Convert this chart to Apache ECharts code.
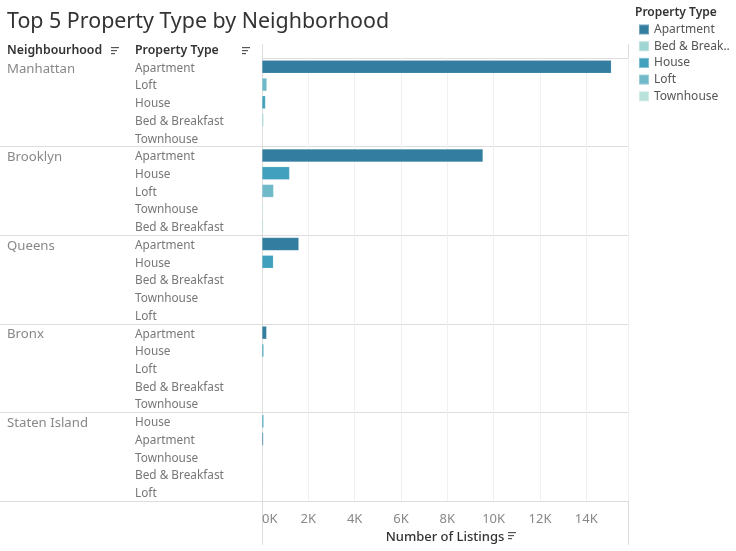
<!DOCTYPE html>
<html><head><meta charset="utf-8">
<script src="https://cdn.jsdelivr.net/npm/echarts@6/dist/echarts.min.js"></script>
<style>html,body{margin:0;padding:0;background:#fff}#c{width:736px;height:551px}</style>
</head><body><div id="c"></div>
<script>
// ---- data ----
const neighborhoods = ['Manhattan', 'Brooklyn', 'Queens', 'Bronx', 'Staten Island'];
const manhattanTypes = ['Apartment', 'Loft', 'House', 'Bed & Breakfast', 'Townhouse'];
const manhattanListings = [15080, 210, 150, 70, 12];
const brooklynTypes = ['Apartment', 'House', 'Loft', 'Townhouse', 'Bed & Breakfast'];
const brooklynListings = [9540, 1190, 500, 55, 50];
const queensTypes = ['Apartment', 'House', 'Bed & Breakfast', 'Townhouse', 'Loft'];
const queensListings = [1590, 490, 20, 15, 10];
const bronxTypes = ['Apartment', 'House', 'Loft', 'Bed & Breakfast', 'Townhouse'];
const bronxListings = [200, 75, 10, 8, 5];
const statenTypes = ['House', 'Apartment', 'Townhouse', 'Bed & Breakfast', 'Loft'];
const statenListings = [75, 60, 8, 5, 3];
const propertyTypes = ['Apartment', 'Bed & Breakfast', 'House', 'Loft', 'Townhouse'];
const xTickValues = [0, 2000, 4000, 6000, 8000, 10000, 12000, 14000];

// ---- styles ----
const typeColors = ['#337da1', '#a0d6d2', '#41a0bd', '#70b9c8', '#b9e3da'];
const FONT = 'Noto Sans';
const gridLeft = 262, gridRight = 628, gridTop = 58, gridBottom = 501;

const groupTypes = [manhattanTypes, brooklynTypes, queensTypes, bronxTypes, statenTypes];
const groupValues = [manhattanListings, brooklynListings, queensListings, bronxListings, statenListings];
const rowTypes = [], rowValues = [], rowHood = [];
groupTypes.forEach((types, g) => {
  types.forEach((t, i) => {
    rowTypes.push(t);
    rowValues.push(groupValues[g][i]);
    rowHood.push(i === 0 ? neighborhoods[g] : '');
  });
});
const groupSize = manhattanTypes.length;

const series = propertyTypes.map((pt, k) => ({
  name: pt,
  type: 'bar',
  stack: 'all',
  yAxisIndex: 0,
  barWidth: 13,
  itemStyle: { color: typeColors[k], borderColor: 'rgba(255,255,255,0.3)', borderWidth: 0.5 },
  data: rowTypes.map((t, i) => t === pt ? rowValues[i] : '-')
}));

function sortIcon(x, y) {
  return {
    type: 'group', left: x, top: y,
    children: [
      { type: 'rect', shape: { x: 0, y: 0, width: 8, height: 1.2 }, style: { fill: '#555' } },
      { type: 'rect', shape: { x: 0, y: 3, width: 6, height: 1.2 }, style: { fill: '#555' } },
      { type: 'rect', shape: { x: 0, y: 6, width: 4, height: 1.2 }, style: { fill: '#555' } }
    ]
  };
}

const chart = echarts.init(document.getElementById('c'), null, { renderer: 'canvas' });
chart.setOption({
  backgroundColor: '#fff',
  animation: false,
  textStyle: { fontFamily: FONT },
  title: [
    { text: 'Top 5 Property Type by Neighborhood', left: 7, top: 11, padding: 0,
      textStyle: { fontFamily: FONT, fontSize: 21.4, fontWeight: 'normal', color: '#333' } },
    { text: 'Neighbourhood', left: 7, top: 44.5, padding: 0,
      textStyle: { fontFamily: FONT, fontSize: 12.3, fontWeight: 600, color: '#333' } },
    { text: 'Property Type', left: 135, top: 44.5, padding: 0,
      textStyle: { fontFamily: FONT, fontSize: 12.3, fontWeight: 600, color: '#333' } },
    { text: 'Property Type', left: 635, top: 6.5, padding: 0,
      textStyle: { fontFamily: FONT, fontSize: 12, fontWeight: 600, color: '#333' } }
  ],
  legend: {
    orient: 'vertical', left: 638, top: 23.5, padding: 0,
    icon: 'rect', itemWidth: 10, itemHeight: 10, itemGap: 4.7,
    data: propertyTypes,
    formatter: n => n.length > 12 ? n.slice(0, 11) + '..' : n,
    textStyle: { fontFamily: FONT, fontSize: 12, color: '#555' }
  },
  grid: { left: gridLeft, right: 736 - gridRight, top: gridTop, bottom: 551 - gridBottom, containLabel: false },
  xAxis: {
    type: 'value', min: 0, max: 15800, interval: 2000,
    name: 'Number of Listings', nameLocation: 'middle', nameGap: 30,
    nameTextStyle: { fontFamily: FONT, fontSize: 13, color: '#333', fontWeight: 500 },
    axisLine: { show: false }, axisTick: { show: false },
    axisLabel: {
      fontFamily: FONT, fontSize: 13, color: '#888', margin: 12,
      showMaxLabel: false, alignMinLabel: 'left',
      formatter: v => xTickValues.indexOf(v) >= 0 ? (v / 1000) + 'K' : ''
    },
    splitLine: { show: true, lineStyle: { color: '#f0f0f0', width: 1 } }
  },
  yAxis: [
    {
      type: 'category', inverse: true, data: rowTypes, position: 'left',
      axisLine: { show: true, lineStyle: { color: '#ddd' } },
      axisTick: { show: true, length: gridLeft, interval: i => i % groupSize === 0 && i > 0, lineStyle: { color: '#ddd' } },
      axisLabel: { align: 'left', verticalAlign: 'top', lineHeight: 3, margin: gridLeft - 135, fontFamily: FONT, fontSize: 11.8, color: '#777', interval: 0 },
      splitLine: { show: true, interval: i => i % groupSize === 0, lineStyle: { color: '#ddd' } }
    },
    {
      type: 'category', inverse: true, data: rowHood, position: 'left',
      axisLine: { show: false }, axisTick: { show: false }, splitLine: { show: false },
      axisLabel: { align: 'left', verticalAlign: 'top', lineHeight: 4, margin: gridLeft - 7, fontFamily: FONT, fontSize: 13.2, color: '#888', interval: 0 }
    }
  ],
  graphic: [
    { type: 'line', shape: { x1: gridLeft + 0.5, y1: 44, x2: gridLeft + 0.5, y2: 545 }, style: { stroke: '#ddd', lineWidth: 1 } },
    { type: 'line', shape: { x1: gridRight + 0.5, y1: 44, x2: gridRight + 0.5, y2: 545 }, style: { stroke: '#ddd', lineWidth: 1 } },
    sortIcon(111, 47),
    sortIcon(242, 47),
    sortIcon(508, 532)
  ],
  series: series
});
</script></body></html>
